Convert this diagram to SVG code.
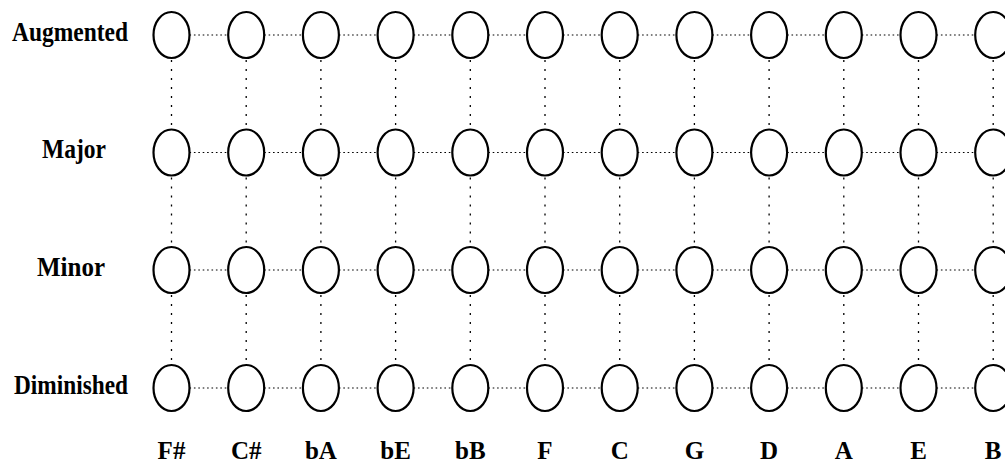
<svg xmlns="http://www.w3.org/2000/svg" width="1005" height="468" viewBox="0 0 1005 468">
<style>
.n{fill:#fff;stroke:#000;stroke-width:2.2}
.h{stroke:#000;stroke-width:1.1;stroke-dasharray:1.6 2.8;fill:none}
.v{stroke:#000;stroke-width:1.3;stroke-dasharray:2 7;fill:none}
.t{font-family:"Liberation Serif","Times New Roman",serif;font-weight:bold;fill:#000;text-anchor:middle}
.r{font-size:27.5px}
.c{font-size:25px}
</style>
<rect width="1005" height="468" fill="#fff"/>
<g id="connectors">
<path class="h" d="M189.5 35H228.2M264.2 35H302.9M338.9 35H377.6M413.6 35H452.3M488.3 35H527M563 35H601.7M637.7 35H676.4M712.4 35H751.1M787.1 35H825.8M861.8 35H900.5M936.5 35H975.2"/>
<path class="h" d="M189.5 152.5H228.2M264.2 152.5H302.9M338.9 152.5H377.6M413.6 152.5H452.3M488.3 152.5H527M563 152.5H601.7M637.7 152.5H676.4M712.4 152.5H751.1M787.1 152.5H825.8M861.8 152.5H900.5M936.5 152.5H975.2"/>
<path class="h" d="M189.5 270H228.2M264.2 270H302.9M338.9 270H377.6M413.6 270H452.3M488.3 270H527M563 270H601.7M637.7 270H676.4M712.4 270H751.1M787.1 270H825.8M861.8 270H900.5M936.5 270H975.2"/>
<path class="h" d="M189.5 388H228.2M264.2 388H302.9M338.9 388H377.6M413.6 388H452.3M488.3 388H527M563 388H601.7M637.7 388H676.4M712.4 388H751.1M787.1 388H825.8M861.8 388H900.5M936.5 388H975.2"/>
<path class="v" d="M171.5 60V128M246.2 60V128M320.9 60V128M395.6 60V128M470.3 60V128M545 60V128M619.7 60V128M694.4 60V128M769.1 60V128M843.8 60V128M918.5 60V128M993.2 60V128"/>
<path class="v" d="M171.5 177.5V245M246.2 177.5V245M320.9 177.5V245M395.6 177.5V245M470.3 177.5V245M545 177.5V245M619.7 177.5V245M694.4 177.5V245M769.1 177.5V245M843.8 177.5V245M918.5 177.5V245M993.2 177.5V245"/>
<path class="v" d="M171.5 295V363M246.2 295V363M320.9 295V363M395.6 295V363M470.3 295V363M545 295V363M619.7 295V363M694.4 295V363M769.1 295V363M843.8 295V363M918.5 295V363M993.2 295V363"/>
</g>
<g id="row-labels">
<text class="t r" x="70" y="40.5" textLength="116" lengthAdjust="spacingAndGlyphs">Augmented</text>
<text class="t r" x="74" y="158.3" textLength="64" lengthAdjust="spacingAndGlyphs">Major</text>
<text class="t r" x="71" y="276" textLength="68" lengthAdjust="spacingAndGlyphs">Minor</text>
<text class="t r" x="71" y="394" textLength="114" lengthAdjust="spacingAndGlyphs">Diminished</text>
</g>
<g id="col-Fs"><ellipse class="n" cx="171.5" cy="35" rx="18" ry="23"/><ellipse class="n" cx="171.5" cy="152.5" rx="18" ry="23"/><ellipse class="n" cx="171.5" cy="270" rx="18" ry="23"/><ellipse class="n" cx="171.5" cy="388" rx="18" ry="23"/><text class="t c" x="171.5" y="459">F#</text></g>
<g id="col-Cs"><ellipse class="n" cx="246.2" cy="35" rx="18" ry="23"/><ellipse class="n" cx="246.2" cy="152.5" rx="18" ry="23"/><ellipse class="n" cx="246.2" cy="270" rx="18" ry="23"/><ellipse class="n" cx="246.2" cy="388" rx="18" ry="23"/><text class="t c" x="246.2" y="459">C#</text></g>
<g id="col-bA"><ellipse class="n" cx="320.9" cy="35" rx="18" ry="23"/><ellipse class="n" cx="320.9" cy="152.5" rx="18" ry="23"/><ellipse class="n" cx="320.9" cy="270" rx="18" ry="23"/><ellipse class="n" cx="320.9" cy="388" rx="18" ry="23"/><text class="t c" x="320.9" y="459">bA</text></g>
<g id="col-bE"><ellipse class="n" cx="395.6" cy="35" rx="18" ry="23"/><ellipse class="n" cx="395.6" cy="152.5" rx="18" ry="23"/><ellipse class="n" cx="395.6" cy="270" rx="18" ry="23"/><ellipse class="n" cx="395.6" cy="388" rx="18" ry="23"/><text class="t c" x="395.6" y="459">bE</text></g>
<g id="col-bB"><ellipse class="n" cx="470.3" cy="35" rx="18" ry="23"/><ellipse class="n" cx="470.3" cy="152.5" rx="18" ry="23"/><ellipse class="n" cx="470.3" cy="270" rx="18" ry="23"/><ellipse class="n" cx="470.3" cy="388" rx="18" ry="23"/><text class="t c" x="470.3" y="459">bB</text></g>
<g id="col-F"><ellipse class="n" cx="545" cy="35" rx="18" ry="23"/><ellipse class="n" cx="545" cy="152.5" rx="18" ry="23"/><ellipse class="n" cx="545" cy="270" rx="18" ry="23"/><ellipse class="n" cx="545" cy="388" rx="18" ry="23"/><text class="t c" x="545" y="459">F</text></g>
<g id="col-C"><ellipse class="n" cx="619.7" cy="35" rx="18" ry="23"/><ellipse class="n" cx="619.7" cy="152.5" rx="18" ry="23"/><ellipse class="n" cx="619.7" cy="270" rx="18" ry="23"/><ellipse class="n" cx="619.7" cy="388" rx="18" ry="23"/><text class="t c" x="619.7" y="459">C</text></g>
<g id="col-G"><ellipse class="n" cx="694.4" cy="35" rx="18" ry="23"/><ellipse class="n" cx="694.4" cy="152.5" rx="18" ry="23"/><ellipse class="n" cx="694.4" cy="270" rx="18" ry="23"/><ellipse class="n" cx="694.4" cy="388" rx="18" ry="23"/><text class="t c" x="694.4" y="459">G</text></g>
<g id="col-D"><ellipse class="n" cx="769.1" cy="35" rx="18" ry="23"/><ellipse class="n" cx="769.1" cy="152.5" rx="18" ry="23"/><ellipse class="n" cx="769.1" cy="270" rx="18" ry="23"/><ellipse class="n" cx="769.1" cy="388" rx="18" ry="23"/><text class="t c" x="769.1" y="459">D</text></g>
<g id="col-A"><ellipse class="n" cx="843.8" cy="35" rx="18" ry="23"/><ellipse class="n" cx="843.8" cy="152.5" rx="18" ry="23"/><ellipse class="n" cx="843.8" cy="270" rx="18" ry="23"/><ellipse class="n" cx="843.8" cy="388" rx="18" ry="23"/><text class="t c" x="843.8" y="459">A</text></g>
<g id="col-E"><ellipse class="n" cx="918.5" cy="35" rx="18" ry="23"/><ellipse class="n" cx="918.5" cy="152.5" rx="18" ry="23"/><ellipse class="n" cx="918.5" cy="270" rx="18" ry="23"/><ellipse class="n" cx="918.5" cy="388" rx="18" ry="23"/><text class="t c" x="918.5" y="459">E</text></g>
<g id="col-B"><ellipse class="n" cx="993.2" cy="35" rx="18" ry="23"/><ellipse class="n" cx="993.2" cy="152.5" rx="18" ry="23"/><ellipse class="n" cx="993.2" cy="270" rx="18" ry="23"/><ellipse class="n" cx="993.2" cy="388" rx="18" ry="23"/><text class="t c" x="993.2" y="459">B</text></g>
</svg>
